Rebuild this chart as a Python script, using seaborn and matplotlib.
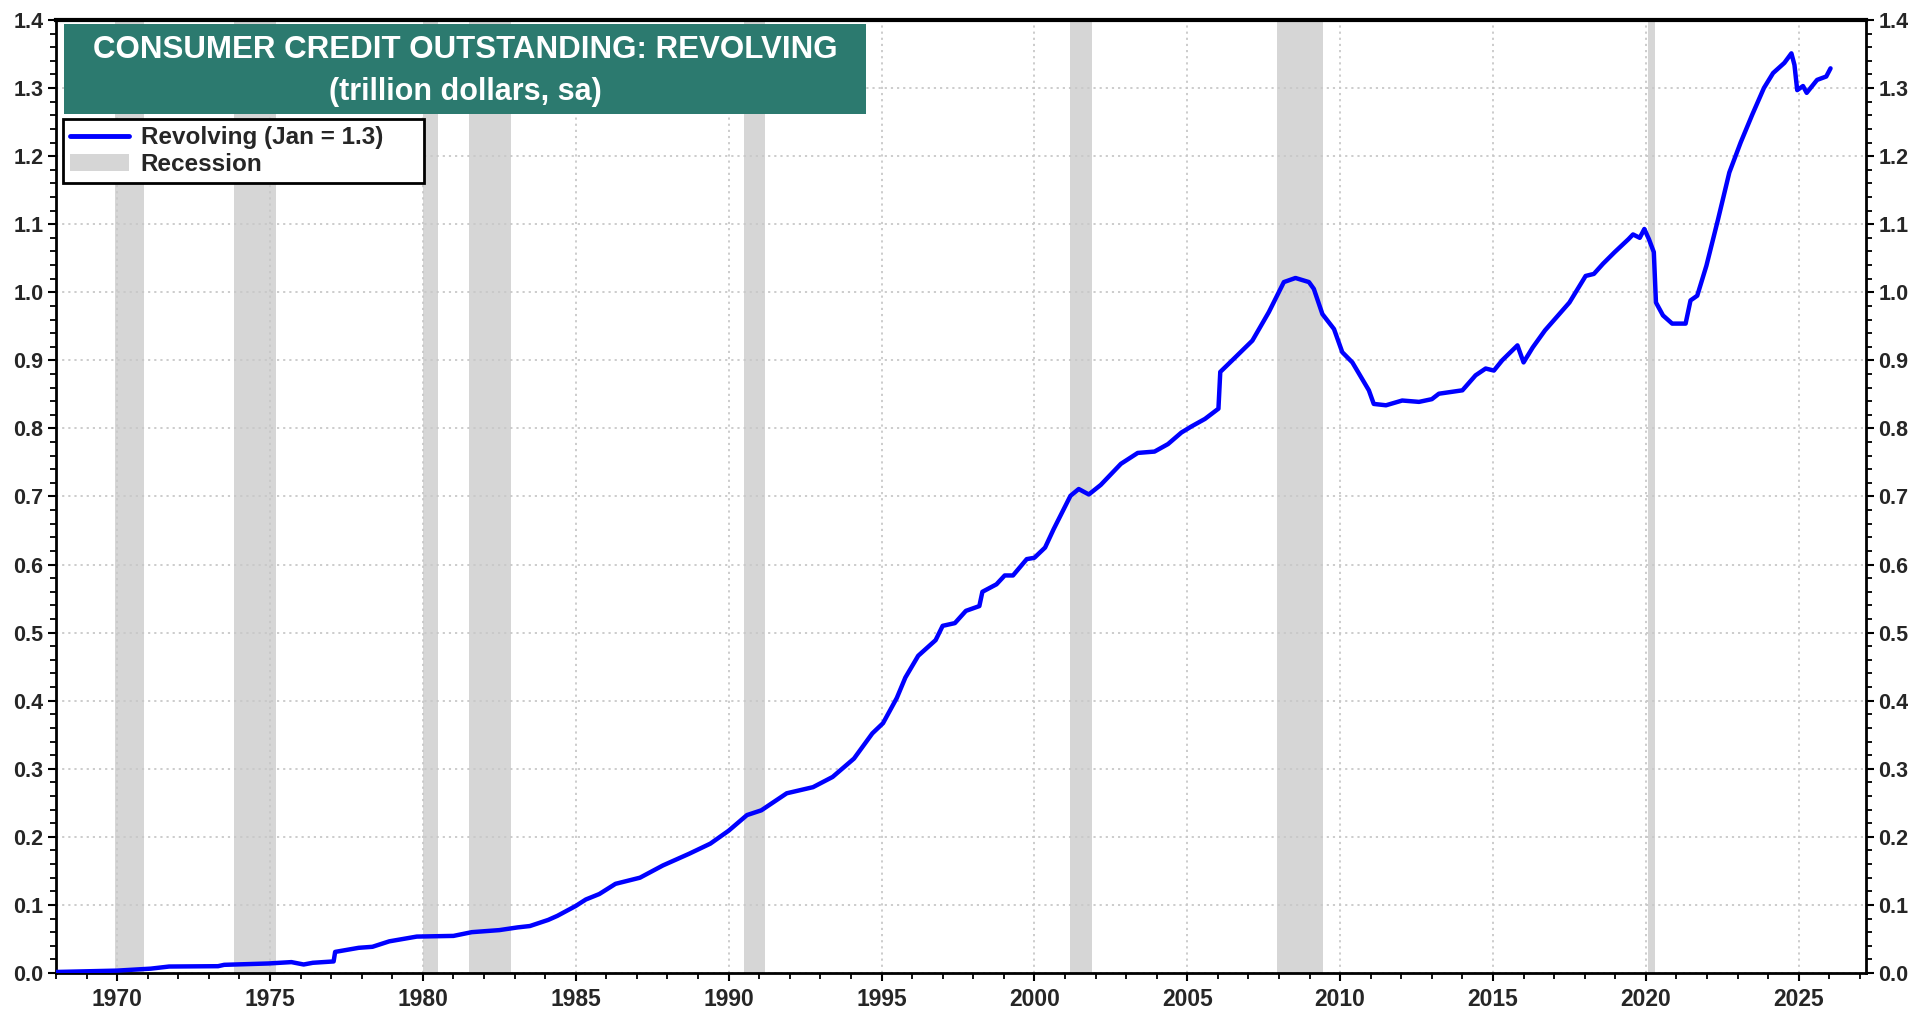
import matplotlib
matplotlib.use("Agg")
import matplotlib.pyplot as plt
import seaborn as sns
import pandas as pd
from matplotlib.lines import Line2D
from matplotlib.patches import Patch, Rectangle
from matplotlib.ticker import MultipleLocator, FormatStrFormatter

# revolving consumer credit, trillion dollars
years = [1968.0, 1969.0, 1970.0, 1971.1, 1971.7, 1973.3, 1973.5, 1974.95, 1975.7, 1976.1,
         1976.4, 1977.08, 1977.13, 1977.9, 1978.35, 1978.9, 1979.8, 1981.0, 1981.6, 1982.5,
         1983.1, 1983.5, 1984.1, 1984.4, 1985.0, 1985.33, 1985.77, 1986.3, 1987.1, 1987.85,
         1988.7, 1989.4, 1990.0, 1990.6, 1991.07, 1991.9, 1992.76, 1993.4, 1994.1, 1994.7,
         1995.05, 1995.5, 1995.78, 1996.2, 1996.77, 1997.0, 1997.4, 1997.76, 1998.2, 1998.3,
         1998.76, 1999.03, 1999.3, 1999.75, 2000.0, 2000.35, 2000.63, 2001.18, 2001.45, 2001.78,
         2002.17, 2002.83, 2003.38, 2003.93, 2004.37, 2004.81, 2005.14, 2005.58, 2006.02, 2006.08,
         2006.47, 2007.13, 2007.67, 2008.16, 2008.54, 2008.98, 2009.14, 2009.42, 2009.8, 2010.07,
         2010.4, 2010.94, 2011.1, 2011.5, 2012.03, 2012.58, 2013.0, 2013.23, 2014.0, 2014.43,
         2014.76, 2015.03, 2015.3, 2015.8, 2016.0, 2016.3, 2016.7, 2017.5, 2018.03, 2018.3,
         2018.6, 2018.98, 2019.43, 2019.58, 2019.8, 2019.95, 2020.1, 2020.26, 2020.33, 2020.56,
         2020.86, 2021.3, 2021.46, 2021.68, 2021.98, 2022.36, 2022.73, 2023.1, 2023.48, 2023.86,
         2024.16, 2024.53, 2024.76, 2024.86, 2024.95, 2025.14, 2025.26, 2025.6, 2025.9, 2026.04]
revolving = [0.0015, 0.0025, 0.0035, 0.0064, 0.0095, 0.0100, 0.0120, 0.0140, 0.0160, 0.0125,
             0.0150, 0.0170, 0.0310, 0.0370, 0.0385, 0.0465, 0.0535, 0.0545, 0.0600, 0.0630,
             0.0670, 0.0690, 0.0780, 0.0840, 0.0985, 0.108, 0.116, 0.131, 0.140, 0.158,
             0.175, 0.190, 0.209, 0.232, 0.239, 0.264, 0.273, 0.288, 0.315, 0.352,
             0.367, 0.404, 0.434, 0.466, 0.489, 0.510, 0.514, 0.532, 0.539, 0.560,
             0.571, 0.584, 0.584, 0.608, 0.610, 0.625, 0.652, 0.701, 0.711, 0.703,
             0.717, 0.748, 0.764, 0.766, 0.777, 0.794, 0.803, 0.814, 0.829, 0.883,
             0.900, 0.929, 0.971, 1.015, 1.021, 1.015, 1.005, 0.968, 0.946, 0.912,
             0.897, 0.856, 0.836, 0.834, 0.841, 0.839, 0.843, 0.851, 0.856, 0.878,
             0.888, 0.885, 0.900, 0.922, 0.897, 0.919, 0.944, 0.985, 1.024, 1.027,
             1.042, 1.059, 1.078, 1.085, 1.080, 1.093, 1.078, 1.059, 0.985, 0.966,
             0.954, 0.954, 0.988, 0.995, 1.039, 1.107, 1.176, 1.220, 1.261, 1.300,
             1.322, 1.337, 1.351, 1.334, 1.297, 1.303, 1.293, 1.312, 1.317, 1.329]

# NBER recessions (fractional years)
rec_start = [1969.92, 1973.83, 1980.0, 1981.5, 1990.5, 2001.17, 2007.92, 2020.08]
rec_end = [1970.87, 1975.2, 1980.5, 1982.87, 1991.2, 2001.87, 2009.45, 2020.3]

title_line1 = "CONSUMER CREDIT OUTSTANDING: REVOLVING"
title_line2 = "(trillion dollars, sa)"
line_label = "Revolving (Jan = 1.3)"

df = pd.DataFrame({"year": years, "value": revolving})

sns.set_style("white")
plt.rcParams["font.family"] = ["Liberation Sans", "DejaVu Sans"]

fig = plt.figure(figsize=(19.2, 10.15), dpi=100)
ax = fig.add_axes([56 / 1920, 1 - 973 / 1015, 1810 / 1920, 953 / 1015])

# recession shading
for s, e in zip(rec_start, rec_end):
    ax.axvspan(s, e, color="#d6d6d6", lw=0, zorder=0)

sns.lineplot(data=df, x="year", y="value", color="#0000ff", lw=3.2, ax=ax,
             sort=False, estimator=None, zorder=3)

ax.set_xlim(1968.0, 2027.2)
ax.set_ylim(0, 1.4)
ax.set_xlabel("")
ax.set_ylabel("")

ax.xaxis.set_major_locator(MultipleLocator(5))
ax.xaxis.set_minor_locator(MultipleLocator(1))
ax.yaxis.set_major_locator(MultipleLocator(0.1))
ax.yaxis.set_minor_locator(MultipleLocator(0.02))
ax.yaxis.set_major_formatter(FormatStrFormatter("%.1f"))

ax.grid(True, which="major", color="#c8c8c8", ls=(0, (1.2, 2.2)), lw=1.3, zorder=1)
ax.set_axisbelow(True)

ax.tick_params(axis="both", which="major", direction="out", length=6, width=1.5,
               color="black")
ax.tick_params(axis="both", which="minor", direction="out", length=4, width=1.3, color="black")
ax.tick_params(axis="y", which="both", left=True, right=True, labelleft=True,
               labelright=True, labelsize=15.5, pad=3)
ax.tick_params(axis="x", which="both", bottom=True, top=False, labelsize=16.5, pad=5)
for t in ax.yaxis.get_major_ticks():
    t.label1.set_fontweight("bold")
    t.label2.set_fontweight("bold")
for t in ax.xaxis.get_major_ticks():
    t.label1.set_fontweight("bold")

for sp in ax.spines.values():
    sp.set_visible(True)
    sp.set_color("black")
    sp.set_linewidth(2)
ax.spines["top"].set_linewidth(3)

# title box
x0 = (64 - 56) / 1810
x1 = (866 - 56) / 1810
y1 = 1 - (24 - 20) / 953
y0 = 1 - (114 - 20) / 953
ax.add_patch(Rectangle((x0, y0), x1 - x0, y1 - y0, transform=ax.transAxes,
                       facecolor="#2c7a6f", edgecolor="none", zorder=5))
xc = (x0 + x1) / 2
ax.text(xc, 1 - (50 - 20) / 953, title_line1, transform=ax.transAxes, ha="center",
        va="center", color="white", fontsize=22.5, fontweight="bold", zorder=6)
ax.text(xc, 1 - (92 - 20) / 953, title_line2, transform=ax.transAxes, ha="center",
        va="center", color="white", fontsize=22, fontweight="bold", zorder=6)

# legend, stretched to the reference box width
handles = [Line2D([0], [0], color="#0000ff", lw=3.5),
           Patch(facecolor="#d6d6d6", edgecolor="none")]
leg = ax.legend(handles, [line_label, "Recession"], loc="upper left", mode="expand",
                bbox_to_anchor=(7 / 1810, 1 - (184 - 20) / 953, 361 / 1810, 65 / 953),
                borderaxespad=0, frameon=True, fancybox=False, framealpha=1,
                prop={"weight": "bold", "size": 17.5}, handlelength=2.4,
                handletextpad=0.5, borderpad=0.3, labelspacing=0.15)
leg.get_frame().set_edgecolor("black")
leg.get_frame().set_linewidth(2)
leg.set_zorder(7)

fig.savefig("out.png", dpi=100)
